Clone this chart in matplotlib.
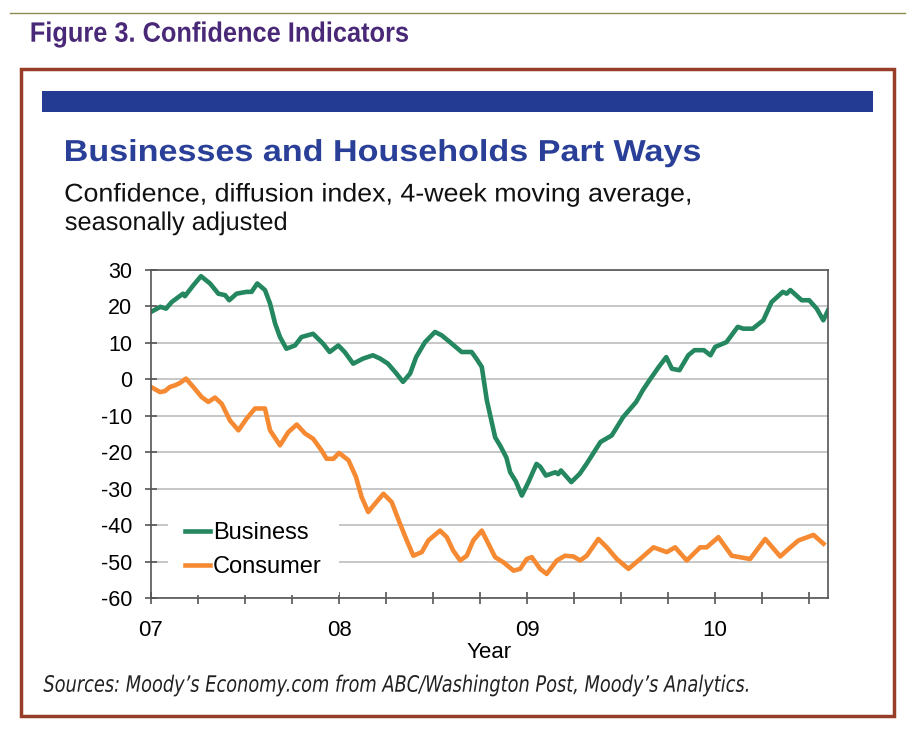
import matplotlib
matplotlib.use('Agg')
from matplotlib import pyplot as plt
from matplotlib.patches import Rectangle, PathPatch
from matplotlib.lines import Line2D
from matplotlib.textpath import TextPath
from matplotlib.font_manager import FontProperties
from matplotlib.transforms import Affine2D

# weekly index readings (x in years since 2007)
business_t = [0.00, 0.05, 0.08, 0.11, 0.17, 0.18, 0.225, 0.266, 0.314, 0.358, 0.394, 0.416,
              0.455, 0.508, 0.535, 0.565, 0.606, 0.633, 0.66, 0.686, 0.72, 0.766, 0.80, 0.862,
              0.915, 0.95, 0.996, 1.03, 1.075, 1.128, 1.18, 1.218, 1.26, 1.305, 1.34, 1.378,
              1.41, 1.457, 1.51, 1.545, 1.59, 1.652, 1.705, 1.73, 1.759, 1.786, 1.83, 1.86,
              1.89, 1.91, 1.94, 1.972, 2.007, 2.05, 2.07, 2.10, 2.15, 2.165, 2.18, 2.235,
              2.28, 2.316, 2.39, 2.45, 2.51, 2.58, 2.615, 2.65, 2.70, 2.74, 2.77, 2.81,
              2.857, 2.89, 2.94, 2.975, 3.00, 3.06, 3.12, 3.15, 3.20, 3.256, 3.30, 3.36,
              3.38, 3.40, 3.46, 3.50, 3.54, 3.575, 3.60]
business_v = [18.5, 19.9, 19.4, 21.2, 23.5, 22.8, 25.8, 28.3, 26.3, 23.5, 23.1, 21.7,
              23.5, 24.0, 24.0, 26.3, 24.5, 20.8, 15.3, 11.6, 8.4, 9.3, 11.6, 12.5,
              9.8, 7.5, 9.3, 7.5, 4.3, 5.7, 6.6, 5.7, 4.3, 1.6, -0.7, 1.6,
              6.1, 10.2, 13.0, 12.1, 10.2, 7.5, 7.5, 5.7, 3.4, -5.8, -15.9, -18.5,
              -21.5, -25.5, -28.0, -31.9, -28.2, -23.2, -24.0, -26.4, -25.5, -26.0, -25.0, -28.2,
              -25.9, -23.2, -17.2, -15.4, -10.4, -6.2, -3.0, -0.3, 3.4, 6.1, 2.9, 2.5,
              6.6, 8.0, 8.0, 6.6, 8.9, 10.2, 14.4, 13.9, 13.9, 16.2, 21.2, 24.0,
              23.5, 24.5, 21.7, 21.7, 19.4, 16.2, 18.9]

consumer_t = [0.00, 0.048, 0.075, 0.10, 0.13, 0.154, 0.186, 0.225, 0.27, 0.305, 0.34, 0.376,
              0.42, 0.465, 0.508, 0.553, 0.606, 0.633, 0.686, 0.73, 0.775, 0.82, 0.862, 0.907,
              0.934, 0.97, 1.00, 1.05, 1.09, 1.12, 1.155, 1.19, 1.236, 1.28, 1.324, 1.36,
              1.395, 1.44, 1.475, 1.537, 1.573, 1.607, 1.644, 1.679, 1.714, 1.759, 1.83, 1.874,
              1.928, 1.963, 1.998, 2.025, 2.069, 2.104, 2.158, 2.202, 2.246, 2.282, 2.317, 2.379,
              2.424, 2.477, 2.539, 2.601, 2.672, 2.743, 2.787, 2.849, 2.92, 2.955, 3.017, 3.088,
              3.186, 3.266, 3.346, 3.40, 3.443, 3.523, 3.576]
consumer_v = [-2.1, -3.5, -3.2, -2.1, -1.6, -1.0, 0.2, -2.1, -4.9, -6.2, -5.0, -6.7,
              -11.3, -14.0, -10.8, -8.0, -8.0, -14.0, -18.1, -14.5, -12.4, -14.9, -16.3, -19.5,
              -21.8, -21.8, -20.2, -22.2, -26.8, -32.3, -36.4, -34.2, -31.4, -33.7, -39.6, -44.2,
              -48.4, -47.4, -44.2, -41.5, -43.3, -47.0, -49.7, -48.4, -44.2, -41.5, -48.8, -50.2,
              -52.5, -52.0, -49.3, -48.8, -52.0, -53.4, -49.7, -48.4, -48.6, -49.7, -48.4, -43.8,
              -46.1, -49.3, -52.0, -49.3, -46.1, -47.4, -46.1, -49.7, -46.1, -46.1, -43.3, -48.4,
              -49.3, -43.8, -48.6, -46.1, -44.2, -42.7, -45.1]

year_ticks = [2007, 2008, 2009, 2010]
year_labels = ['07', '08', '09', '10']
y_ticks = [30, 20, 10, 0, -10, -20, -30, -40, -50, -60]

W, H = 915, 742


def fx(px):
    return px / W


def fy(py):
    return 1 - py / H


def put_text(fig, s, x0, x1, base, size, color, **font):
    # text drawn as a path so its width can be fitted to the original
    tp = TextPath((0, 0), s, size=size, prop=FontProperties(**font))
    ext = tp.get_extents()
    sx = (x1 - x0) / ext.width
    tr = Affine2D().translate(-ext.x0, 0).scale(sx, 1).translate(x0, H - base)
    fig.add_artist(PathPatch(tp, transform=tr, facecolor=color, edgecolor='none', lw=0))


def main():
    plt.rcParams['font.family'] = ['Liberation Sans', 'DejaVu Sans']
    plt.rcParams['axes.unicode_minus'] = False

    fig = plt.figure(figsize=(W / 100, H / 100), dpi=100)

    # page decorations
    fig.add_artist(Line2D([fx(10), fx(905)], [fy(13), fy(13)], color='#8c8c52', lw=1))
    put_text(fig, 'Figure 3. Confidence Indicators', 31.5, 408, 41.7, 28, '#4a2878',
             family='Liberation Sans', weight='bold')
    fig.add_artist(Rectangle((fx(21), fy(716)), fx(873), (716 - 69) / H,
                             fill=False, edgecolor='#983d28', lw=2.5))
    fig.add_artist(Rectangle((fx(42), fy(112)), fx(831), 21 / H, facecolor='#233b93',
                             edgecolor='none'))
    put_text(fig, 'Businesses and Households Part Ways', 66, 700, 161, 30.3, '#2a3f97',
             family='Liberation Sans', weight='bold')
    put_text(fig, 'Confidence, diffusion index, 4-week moving average,', 65.5, 690, 201.5, 25.6,
             '#111111', family='Liberation Sans')
    put_text(fig, 'seasonally adjusted', 65.5, 286, 230, 25.6, '#111111',
             family='Liberation Sans')
    put_text(fig, 'Sources: Moody\u2019s Economy.com from ABC/Washington Post, Moody\u2019s Analytics.',
             43.5, 748, 691.7, 22.5, '#222222', family='DejaVu Sans', style='italic')

    ax = fig.add_axes([fx(151), fy(598), (828 - 151) / W, (598 - 270) / H])

    bx = [2007 + t for t in business_t]
    cx = [2007 + t for t in consumer_t]
    ax.plot(bx, business_v, color='#24875f', lw=3.3, label='Business', solid_joinstyle='round')
    ax.plot(cx, consumer_v, color='#f58a33', lw=3.3, label='Consumer', solid_joinstyle='round')

    ax.set_xlim(2007, 2010.6)
    ax.set_ylim(-60, 30)
    ax.set_yticks(y_ticks)
    ax.set_xticks(year_ticks)
    ax.set_xticklabels(year_labels)
    ax.set_xticks([2007 + q * 0.25 for q in range(15)], minor=True)

    ax.yaxis.grid(True, color='#bdbdbd', lw=1.2)
    ax.set_axisbelow(True)
    for s in ax.spines.values():
        s.set_color('#555555')
        s.set_linewidth(1.2)

    ax.tick_params(axis='y', direction='inout', length=9, width=1.2, color='#555555',
                   labelsize=15.5, pad=9)
    ax.tick_params(axis='x', which='both', direction='inout', length=9, width=1.2,
                   color='#555555', labelsize=16, pad=11)
    ax.set_xlabel('Year', fontsize=16, labelpad=1)

    leg = ax.legend(loc='upper left', bbox_to_anchor=(0.0251, 0.284), fontsize=17, frameon=True,
                    handlelength=1.06, handletextpad=0.13, labelspacing=0.52, borderpad=0.72,
                    borderaxespad=0, fancybox=False)
    leg.get_frame().set_facecolor('white')
    leg.get_frame().set_edgecolor('none')
    leg.get_frame().set_alpha(1)

    fig.savefig('out.png', dpi=100)


if __name__ == '__main__':
    main()
